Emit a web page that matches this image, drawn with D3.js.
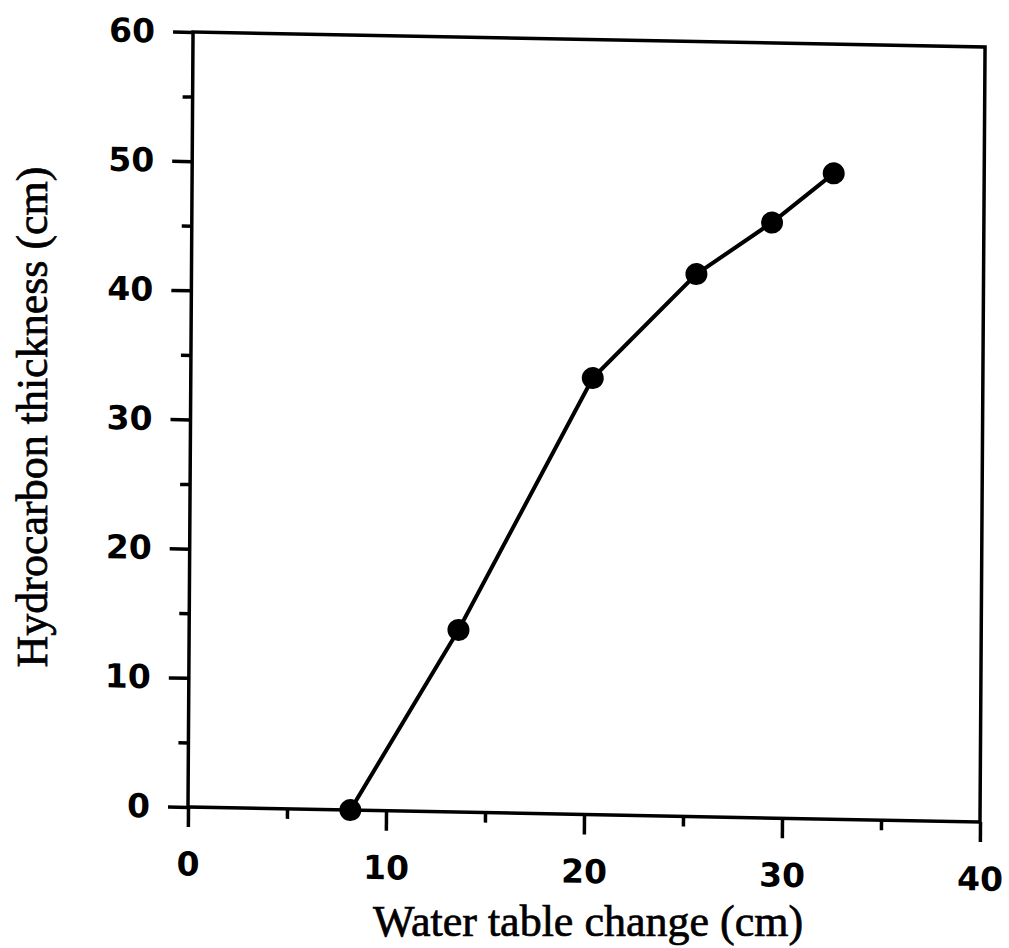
<!DOCTYPE html>
<html>
<head>
<meta charset="utf-8">
<script src="https://cdn.jsdelivr.net/npm/d3@7"></script>
<style>
  body { margin: 0; background: #fff; }
  .tick text { font-family: "DejaVu Sans", Arial, sans-serif; font-weight: bold; font-size: 33px; fill: #000; }
  .title { font-family: "Liberation Serif", "Times New Roman", serif; font-size: 44px; fill: #000; stroke: #000; stroke-width: 0.7px; }
</style>
</head>
<body>
<svg id="chart" width="1009" height="948"></svg>
<script>
// values
var waterChange = [8.2, 13.6, 20.3, 25.5, 29.3, 32.4];
var hcThickness = [0, 14.1, 33.8, 42.0, 46.1, 50.0];
var xTicks = [0, 10, 20, 30, 40];
var yTicks = [0, 10, 20, 30, 40, 50, 60];

var left = 188, bottom = 807, width = 792, height = 775;
var svg = d3.select('#chart');

// the scan is slightly sheared, so the plot frame is too
var g = svg.append('g')
  .attr('transform', 'translate(' + left + ',' + bottom + ') matrix(1,0.019,-0.0065,1,0,0) translate(0,' + (-height) + ')');

var x = d3.scaleLinear().domain([0, 40]).range([0, width]);
var y = d3.scaleLinear().domain([0, 60]).range([height, 0]);

function styleAxis(sel) {
  sel.select('.domain').remove();
  sel.selectAll('line').attr('stroke', '#000').attr('stroke-width', 3.5);
  sel.selectAll('text').attr('font-size', null).attr('font-family', null);
  sel.attr('font-size', null).attr('font-family', null);
}

// minor ticks
g.append('g').attr('transform', 'translate(0,' + height + ')')
  .call(d3.axisBottom(x).tickValues([5, 15, 25, 35]).tickSize(10).tickFormat(''))
  .call(styleAxis);
g.append('g')
  .call(d3.axisLeft(y).tickValues([5, 15, 25, 35, 45, 55]).tickSize(10).tickFormat(''))
  .call(styleAxis);

// major ticks
g.append('g').attr('transform', 'translate(0,' + height + ')')
  .call(d3.axisBottom(x).tickValues(xTicks).tickSize(20).tickPadding(25))
  .call(styleAxis);
g.append('g')
  .call(d3.axisLeft(y).tickValues(yTicks).tickSize(20).tickPadding(18))
  .call(styleAxis);

// frame
g.append('rect')
  .attr('x', 0).attr('y', 0).attr('width', width).attr('height', height)
  .attr('fill', 'none').attr('stroke', '#000').attr('stroke-width', 3.5);

var pts = waterChange.map(function (d, i) { return [d, hcThickness[i]]; });

g.append('path')
  .datum(pts)
  .attr('fill', 'none')
  .attr('stroke', '#000')
  .attr('stroke-width', 4)
  .attr('d', d3.line().x(function (d) { return x(d[0]); }).y(function (d) { return y(d[1]); }));

g.selectAll('circle.pt')
  .data(pts)
  .enter()
  .append('circle')
  .attr('class', 'pt')
  .attr('cx', function (d) { return x(d[0]); })
  .attr('cy', function (d) { return y(d[1]); })
  .attr('r', 11)
  .attr('fill', '#000');

// axis titles
svg.append('text').attr('class', 'title')
  .attr('x', 588).attr('y', 936)
  .attr('text-anchor', 'middle')
  .text('Water table change (cm)');

svg.append('text').attr('class', 'title')
  .attr('transform', 'translate(47,417) rotate(-90)')
  .attr('text-anchor', 'middle')
  .text('Hydrocarbon thickness (cm)');
</script>
</body>
</html>
